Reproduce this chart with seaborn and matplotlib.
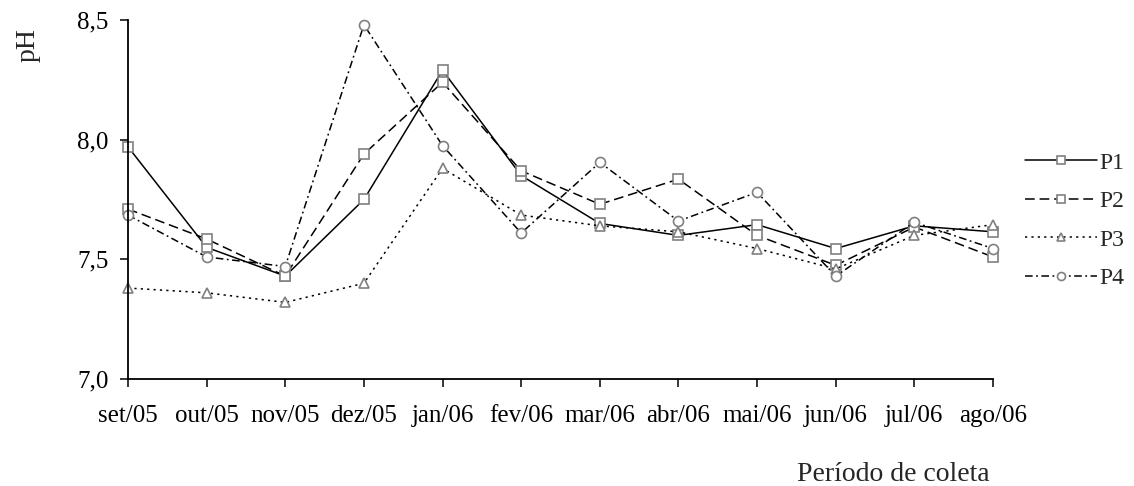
import matplotlib
matplotlib.use("Agg")
import matplotlib.pyplot as plt
import seaborn as sns
import pandas as pd

months = ["set/05", "out/05", "nov/05", "dez/05", "jan/06", "fev/06",
          "mar/06", "abr/06", "mai/06", "jun/06", "jul/06", "ago/06"]
p1 = [7.97, 7.55, 7.43, 7.75, 8.29, 7.85, 7.65, 7.60, 7.645, 7.545, 7.64, 7.615]
p2 = [7.71, 7.585, 7.43, 7.94, 8.24, 7.87, 7.73, 7.835, 7.60, 7.475, 7.635, 7.51]
p3 = [7.38, 7.36, 7.32, 7.40, 7.88, 7.685, 7.64, 7.615, 7.545, 7.46, 7.60, 7.645]
p4 = [7.685, 7.51, 7.47, 8.48, 7.975, 7.61, 7.905, 7.66, 7.78, 7.43, 7.655, 7.545]
series_names = ["P1", "P2", "P3", "P4"]
yticks = [7.0, 7.5, 8.0, 8.5]
ytick_labels = ["7,0", "7,5", "8,0", "8,5"]

sns.set_theme(style="white")
plt.rcParams["font.family"] = ["Liberation Serif", "DejaVu Serif"]
plt.rcParams["lines.scale_dashes"] = False

fig = plt.figure(figsize=(11.34, 4.86), dpi=100)
ax = fig.add_axes([128 / 1134, 1 - 379 / 486, (993 - 128) / 1134, (379 - 20) / 486])

styles = {
    "P1": dict(marker="s", linestyle="-"),
    "P2": dict(marker="s", linestyle=(0, (7, 3.5))),
    "P3": dict(marker="^", linestyle=(0, (1.6, 3.0))),
    "P4": dict(marker="o", linestyle=(0, (5.5, 2.5, 1.3, 2.5))),
}
data = {"P1": p1, "P2": p2, "P3": p3, "P4": p4}

for name in series_names:
    df = pd.DataFrame({"x": list(range(len(months))), "pH": data[name]})
    sns.lineplot(data=df, x="x", y="pH", ax=ax, color="black", linewidth=1.1,
                 marker=styles[name]["marker"], linestyle=styles[name]["linestyle"],
                 markersize=7.2, markerfacecolor="white", markeredgecolor="#808080",
                 markeredgewidth=1.2, label=name, clip_on=False, legend=False)

ax.set_xlim(0, len(months) - 1)
ax.set_ylim(7.0, 8.5)
ax.set_xticks(range(len(months)))
ax.set_xticklabels(months, fontsize=18)
ax.set_yticks(yticks)
ax.set_yticklabels(ytick_labels, fontsize=18)
ax.set_xlabel("")
ax.set_ylabel("")
for s in ["top", "right"]:
    ax.spines[s].set_visible(False)
for s in ["left", "bottom"]:
    ax.spines[s].set_color("black")
    ax.spines[s].set_linewidth(1.3)
ax.tick_params(axis="both", direction="out", length=6, width=1.1, color="black",
               left=True, bottom=True, labelcolor="black")
ax.tick_params(axis="x", pad=13)
ax.tick_params(axis="y", pad=8)

handles, labels = ax.get_legend_handles_labels()
leg = fig.legend(handles, labels, loc="upper left", bbox_to_anchor=(1025 / 1134, 1 - 152 / 486),
                 frameon=False, fontsize=17, handlelength=3.05, handletextpad=0.1,
                 labelspacing=0.72, markerscale=0.8, borderpad=0, borderaxespad=0)

fig.text(28 / 1134, 1 - 45 / 486, "pH", rotation=90, ha="center", va="center", fontsize=20)
fig.text(893 / 1134, 1 - 481 / 486, "Período de coleta", ha="center", va="baseline", fontsize=20)

fig.savefig("out.png", dpi=100)
